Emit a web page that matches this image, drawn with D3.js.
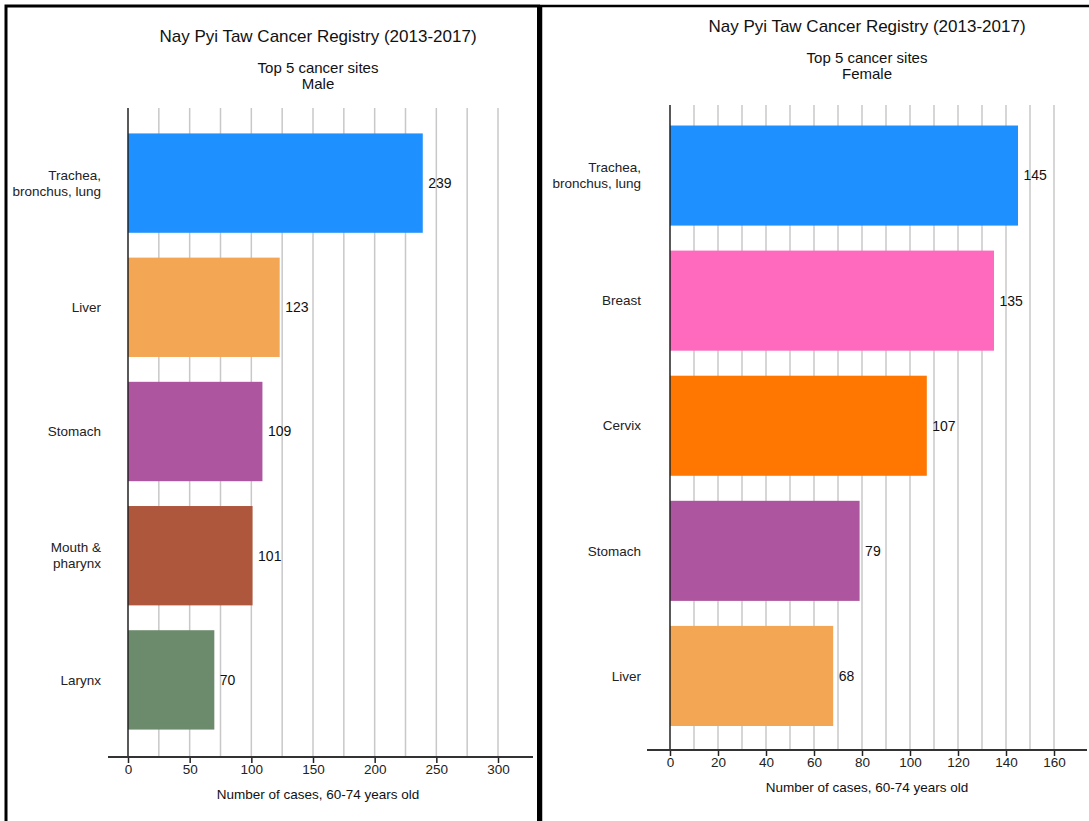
<!DOCTYPE html>
<html>
<head>
<meta charset="utf-8">
<script src="https://cdn.jsdelivr.net/npm/d3@7"></script>
<style>
  body { margin: 0; background: #fff; }
  svg { display: block; font-family: "Liberation Sans", Arial, sans-serif; }
</style>
</head>
<body>
<div id="vis"></div>
<script>
// data
var maleSites = ["Trachea, bronchus, lung", "Liver", "Stomach", "Mouth & pharynx", "Larynx"];
var maleLines = [["Trachea,", "bronchus, lung"], ["Liver"], ["Stomach"], ["Mouth &", "pharynx"], ["Larynx"]];
var maleCases = [239, 123, 109, 101, 70];
var maleColors = ["#1e90ff", "#f3a755", "#ad559e", "#ae573d", "#6c8a6c"];
var maleTicks = [0, 50, 100, 150, 200, 250, 300];

var femaleSites = ["Trachea, bronchus, lung", "Breast", "Cervix", "Stomach", "Liver"];
var femaleLines = [["Trachea,", "bronchus, lung"], ["Breast"], ["Cervix"], ["Stomach"], ["Liver"]];
var femaleCases = [145, 135, 107, 79, 68];
var femaleColors = ["#1e90ff", "#ff69be", "#ff7700", "#ad559e", "#f3a755"];
var femaleTicks = [0, 20, 40, 60, 80, 100, 120, 140, 160];

var svg = d3.select("div#vis")
  .append("svg")
  .attr("width", 1089)
  .attr("height", 821);

// panel frames
svg.append("rect")
  .attr("x", 6).attr("y", 6).attr("width", 532.5).attr("height", 840)
  .attr("fill", "none").attr("stroke", "#000").attr("stroke-width", 3);
svg.append("rect")
  .attr("x", 541).attr("y", 6).attr("width", 570).attr("height", 840)
  .attr("fill", "none").attr("stroke", "#000").attr("stroke-width", 2.5);

function drawPanel(opt) {
  var g = svg.append("g");

  var x = d3.scaleLinear()
    .domain([0, opt.max])
    .range([opt.x0, opt.x1]);

  var y = d3.scaleBand()
    .domain(opt.sites)
    .range(opt.band)
    .paddingInner(0.2)
    .paddingOuter(0.1);

  // titles
  g.append("text")
    .attr("x", opt.cx).attr("y", opt.titleY)
    .attr("text-anchor", "middle")
    .attr("font-size", 17)
    .attr("fill", "#111")
    .text("Nay Pyi Taw Cancer Registry (2013-2017)");
  g.append("text")
    .attr("x", opt.cx).attr("y", opt.titleY + 31)
    .attr("text-anchor", "middle")
    .attr("font-size", 15)
    .attr("fill", "#111")
    .text("Top 5 cancer sites");
  g.append("text")
    .attr("x", opt.cx).attr("y", opt.titleY + 47)
    .attr("text-anchor", "middle")
    .attr("font-size", 15)
    .attr("fill", "#111")
    .text(opt.sex);

  // minor + major gridlines
  g.append("g")
    .selectAll("line")
    .data(d3.range(opt.gridStep, opt.ticks[opt.ticks.length - 1] + 0.1, opt.gridStep))
    .enter().append("line")
      .attr("x1", function(d) { return x(d); })
      .attr("x2", function(d) { return x(d); })
      .attr("y1", opt.top)
      .attr("y2", opt.bottom)
      .attr("stroke", "#c8c8c8")
      .attr("stroke-width", 1.5);

  // bars
  g.append("g")
    .selectAll("rect")
    .data(opt.cases)
    .enter().append("rect")
      .attr("x", x(0))
      .attr("y", function(d, i) { return y(opt.sites[i]); })
      .attr("width", function(d) { return x(d) - x(0); })
      .attr("height", y.bandwidth())
      .attr("fill", function(d, i) { return opt.colors[i]; });

  // value labels
  g.append("g")
    .selectAll("text")
    .data(opt.cases)
    .enter().append("text")
      .attr("x", function(d) { return x(d) + 5.5; })
      .attr("y", function(d, i) { return y(opt.sites[i]) + y.bandwidth() / 2; })
      .attr("dy", "0.35em")
      .attr("font-size", 14)
      .attr("fill", "#111")
      .text(function(d) { return d; });

  // category labels
  var cat = g.append("g")
    .selectAll("text")
    .data(opt.lines)
    .enter().append("text")
      .attr("text-anchor", "end")
      .attr("font-size", 13.5)
      .attr("fill", "#222")
      .attr("y", function(d, i) { return y(opt.sites[i]) + y.bandwidth() / 2 - (d.length - 1) * 8; });
  cat.selectAll("tspan")
    .data(function(d) { return d; })
    .enter().append("tspan")
      .attr("x", opt.labelX)
      .attr("dy", function(d, j) { return j === 0 ? "0.35em" : 16; })
      .text(function(d) { return d; });

  // y axis line
  g.append("line")
    .attr("x1", x(0)).attr("x2", x(0))
    .attr("y1", opt.top).attr("y2", opt.bottom)
    .attr("stroke", "#222").attr("stroke-width", 1.5);

  // x axis
  var ax = g.append("g")
    .attr("transform", "translate(0," + opt.bottom + ")")
    .call(d3.axisBottom(x).tickValues(opt.ticks).tickSize(6).tickSizeOuter(0));
  ax.select(".domain").remove();
  ax.selectAll(".tick line").attr("stroke", "#222").attr("stroke-width", 1.5);
  ax.selectAll(".tick text")
    .attr("font-size", 13.5)
    .attr("font-family", "Liberation Sans, Arial, sans-serif")
    .attr("fill", "#222")
    .attr("y", 7);
  g.append("line")
    .attr("x1", opt.axisL).attr("x2", opt.axisR)
    .attr("y1", opt.bottom).attr("y2", opt.bottom)
    .attr("stroke", "#333").attr("stroke-width", 1.8);

  g.append("text")
    .attr("x", opt.cx).attr("y", opt.bottom + 42)
    .attr("text-anchor", "middle")
    .attr("font-size", 13.5)
    .attr("fill", "#111")
    .text("Number of cases, 60-74 years old");
}

drawPanel({
  sites: maleSites, lines: maleLines, cases: maleCases, colors: maleColors,
  ticks: maleTicks, sex: "Male",
  max: 300, gridStep: 25, x0: 128, x1: 498,
  band: [121, 742], top: 108, bottom: 757,
  axisL: 108, axisR: 533, labelX: 101, cx: 318, titleY: 42
});

drawPanel({
  sites: femaleSites, lines: femaleLines, cases: femaleCases, colors: femaleColors,
  ticks: femaleTicks, sex: "Female",
  max: 160, gridStep: 10, x0: 670, x1: 1054,
  band: [113, 738.5], top: 105, bottom: 750,
  axisL: 647, axisR: 1087, labelX: 641, cx: 867, titleY: 32
});
</script>
</body>
</html>
